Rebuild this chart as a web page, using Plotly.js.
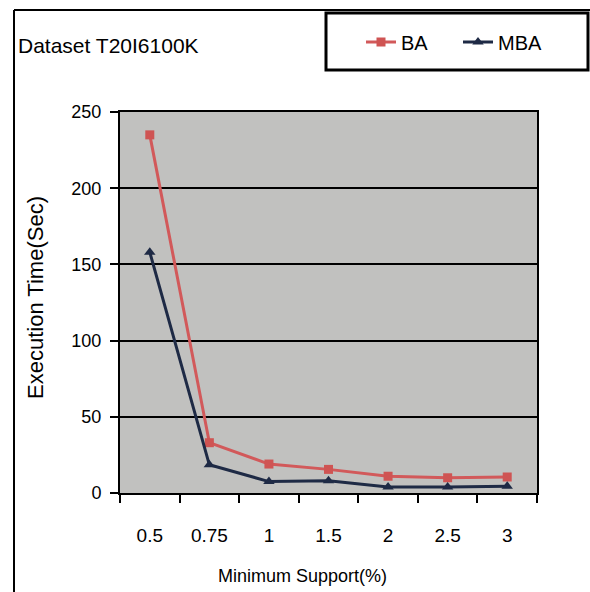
<!DOCTYPE html>
<html>
<head>
<meta charset="utf-8">
<script src="https://cdn.plot.ly/plotly-3.0.1.min.js"></script>
<style>html,body{margin:0;padding:0;background:#fff;}#chart{width:590px;height:592px;}</style>
</head>
<body>
<div id="chart"></div>
<script>
const categories = ["0.5", "0.75", "1", "1.5", "2", "2.5", "3"];
const baValues = [235, 33, 19, 15.5, 11, 10, 10.5];
const mbaValues = [158, 18.5, 7.5, 8, 4, 4, 4.5];
const yTicks = [0, 50, 100, 150, 200, 250];
const chartTitle = "Dataset T20I6100K";
const xTitle = "Minimum Support(%)";
const yTitle = "Execution Time(Sec)";

const W = 590, H = 592;
const L = 120, R = 53, T = 112, B = 99;
const pw = W - L - R, ph = H - T - B;
const px = x => (x - L) / pw;
const py = y => (H - B - y) / ph;
const font = "Liberation Sans, Arial, sans-serif";

const traces = [
  {x: categories, y: baValues, name: "BA", type: "scatter", mode: "lines+markers",
   line: {color: "#d2595a", width: 3}, marker: {symbol: "square", size: 9, color: "#cf5453"}},
  {x: categories, y: mbaValues, name: "MBA", type: "scatter", mode: "lines+markers",
   line: {color: "#1e2a45", width: 3}, marker: {symbol: "triangle-up", size: 10, color: "#1e2a45"}}
];

const layout = {
  width: W, height: H,
  margin: {l: L, r: R, t: T, b: B, pad: 0, autoexpand: false},
  paper_bgcolor: "#ffffff",
  plot_bgcolor: "#c1c1bf",
  font: {family: font, color: "#000", size: 18},
  showlegend: true,
  legend: {orientation: "h", x: px(361), y: py(42), xanchor: "left", yanchor: "middle",
           bgcolor: "rgba(0,0,0,0)", borderwidth: 0, font: {size: 20, family: font},
           entrywidth: 52, entrywidthmode: "pixels", tracegroupgap: 0},
  xaxis: {type: "category", range: [-0.5, 6.5], showgrid: false, zeroline: false,
          showline: true, linecolor: "#000", linewidth: 2, mirror: true,
          ticks: "outside", tickson: "boundaries", ticklen: 8, tickwidth: 2, tickcolor: "#000",
          ticklabelstandoff: 24, tickangle: 0, automargin: false,
          tickfont: {size: 19, family: font}, fixedrange: true},
  yaxis: {range: [0, 250], tickvals: yTicks, ticktext: yTicks.map(String),
          showgrid: true, gridcolor: "#000", gridwidth: 2, zeroline: false,
          showline: true, linecolor: "#000", linewidth: 2, mirror: true,
          ticks: "outside", ticklen: 8, tickwidth: 2, tickcolor: "#000",
          ticklabelstandoff: 5, automargin: false,
          tickfont: {size: 18, family: font}, fixedrange: true},
  annotations: [
    {text: chartTitle, xref: "paper", yref: "paper", x: px(16), y: py(45), xanchor: "left", yanchor: "middle",
     showarrow: false, font: {size: 21, family: font, color: "#000"}},
    {text: xTitle, xref: "paper", yref: "paper", x: px(302), y: py(576), xanchor: "center", yanchor: "middle",
     showarrow: false, font: {size: 18, family: font, color: "#000"}},
    {text: yTitle, xref: "paper", yref: "paper", x: px(35), y: py(298), xanchor: "center", yanchor: "middle",
     textangle: -90, showarrow: false, font: {size: 22, family: font, color: "#000"}}
  ],
  shapes: [
    {type: "line", xref: "paper", yref: "paper", x0: px(14), x1: px(14), y0: py(10), y1: py(592),
     line: {color: "#000", width: 2}},
    {type: "line", xref: "paper", yref: "paper", x0: px(14), x1: px(590), y0: py(10), y1: py(10),
     line: {color: "#000", width: 2}},
    {type: "rect", xref: "paper", yref: "paper", x0: px(326), x1: px(588), y0: py(13), y1: py(70),
     line: {color: "#000", width: 3}}
  ]
};

Plotly.newPlot("chart", traces, layout, {displayModeBar: false, staticPlot: true});
</script>
</body>
</html>
